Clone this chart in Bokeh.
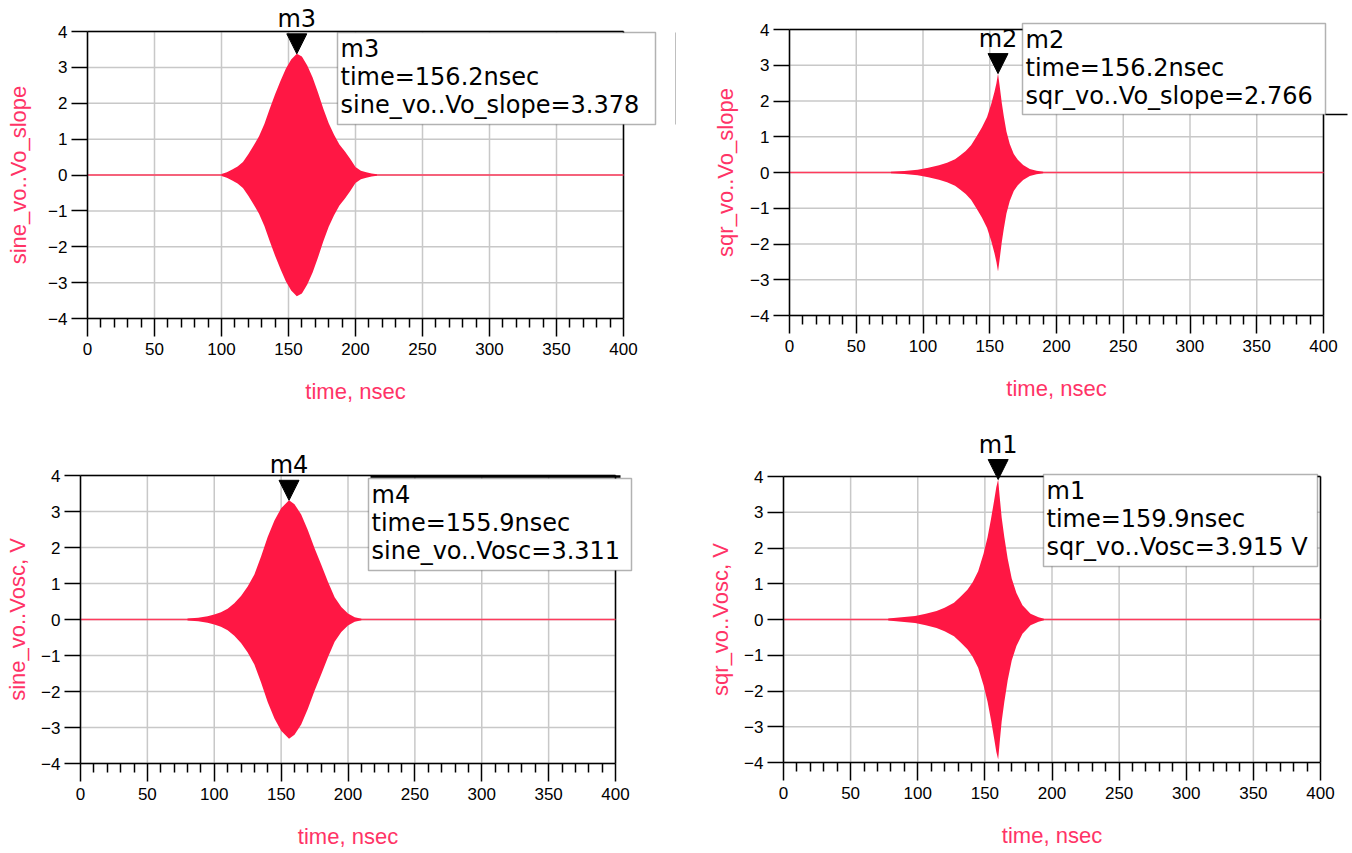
import math
from bokeh.plotting import figure
from bokeh.layouts import column, row
from bokeh.models import (Range1d, FixedTicker, Label, BoxAnnotation, Arrow,
                          NormalHead)
from bokeh.embed import file_html
from bokeh.resources import INLINE

# ---- axis ticks -----------------------------------------------------------
x_ticks = [0, 50, 100, 150, 200, 250, 300, 350, 400]
x_minor = [v for v in range(10, 400, 10) if v % 50]
y_ticks = [-4, -3, -2, -1, 0, 1, 2, 3, 4]
time_span = [0, 400]          # trace sits at zero outside the burst
baseline = [0, 0]

# ---- burst envelopes (time in nsec, peak amplitude) -------------------------
sine_slope_t = [100, 104, 108, 112, 116, 120, 124, 128, 132, 136, 140, 144,
                148, 152, 156.2, 160, 164, 168, 172, 176, 180, 184, 188, 192,
                196, 200, 204, 208, 212, 216]
sine_slope_a = [0.03, 0.08, 0.15, 0.24, 0.36, 0.58, 0.82, 1.08, 1.42, 1.85,
                2.25, 2.62, 2.96, 3.22, 3.378, 3.3, 3.05, 2.72, 2.3, 1.85, 1.44,
                1.12, 0.85, 0.66, 0.45, 0.22, 0.12, 0.08, 0.04, 0.02]

sqr_slope_t = [76, 86, 96, 104, 112, 118, 124, 128, 132, 136, 140, 144, 148,
               151, 153.5, 155, 156.2, 157.5, 159, 160.5, 162.5, 165, 168, 171,
               175, 180, 185, 190]
sqr_slope_a = [0.02, 0.04, 0.08, 0.13, 0.2, 0.27, 0.37, 0.48, 0.6, 0.76, 1.0,
               1.25, 1.55, 1.9, 2.25, 2.5, 2.766, 2.4, 1.95, 1.58, 1.15, 0.8,
               0.52, 0.36, 0.21, 0.1, 0.05, 0.02]

sine_osc_t = [80, 88, 95, 100, 105, 110, 115, 120, 125, 130, 135, 140, 145,
              150, 155.9, 160, 165, 170, 175, 180, 185, 190, 195, 200, 205, 210]
sine_osc_a = [0.03, 0.05, 0.09, 0.14, 0.2, 0.3, 0.45, 0.65, 0.92, 1.25, 1.75,
              2.3, 2.75, 3.09, 3.311, 3.2, 2.92, 2.48, 1.98, 1.52, 1.05, 0.62,
              0.35, 0.17, 0.06, 0.02]

sqr_osc_t = [78, 88, 98, 106, 114, 120, 127, 132, 137, 141, 145, 149, 152,
             154.5, 157, 158.5, 159.9, 161, 162.5, 164.5, 167, 170, 173.5, 178,
             184, 190, 194]
sqr_osc_a = [0.03, 0.06, 0.1, 0.16, 0.24, 0.33, 0.47, 0.64, 0.83, 1.05, 1.35,
             1.84, 2.3, 2.8, 3.35, 3.7, 3.915, 3.45, 2.85, 2.3, 1.7, 1.15, 0.74,
             0.4, 0.16, 0.06, 0.02]

# ---- markers ---------------------------------------------------------------
marker_names = ["m3", "m2", "m4", "m1"]
marker_time = [156.2, 156.2, 155.9, 159.9]
marker_value = [3.378, 2.766, 3.311, 3.915]
marker_expr = ["sine_vo..Vo_slope", "sqr_vo..Vo_slope", "sine_vo..Vosc",
               "sqr_vo..Vosc"]
marker_unit = ["", "", "", " V"]

x_title = "time, nsec"
y_titles = ["sine_vo..Vo_slope", "sqr_vo..Vo_slope", "sine_vo..Vosc, V",
            "sqr_vo..Vosc, V"]

FILL = "#FF1744"
TRACE = "#FF3B5C"
TITLE = "#FF3366"
GRID = "#C8C8C8"
TICK_FONT = "Liberation Sans"
MARK_FONT = "DejaVu Sans"

# canvas geometry of each panel: size, offsets of the data box from the
# canvas edges (l, r, t, b), readout box (pixels from the data box corner),
# y-title distance left of the axis, extra rule segments
layout = [
    dict(w=676, h=426, l=87, r=53, t=31, b=108, ytd=69,
         box=(250, 568, 1, 93), extra=[((589, 1), (589, 93), 1.5)]),
    dict(w=676, h=426, l=113, r=29, t=29, b=111, ytd=64,
         box=(233, 536, -6, 85), extra=[((536, 85), (558, 85), 1.5)]),
    dict(w=676, h=427, l=80, r=61, t=49, b=90, ytd=63,
         box=(288, 551, 3, 95), extra=[((290, 1), (540, 1), 2.5)]),
    dict(w=676, h=427, l=107, r=32, t=50, b=91, ytd=63,
         box=(260, 534, -2, 90), extra=[]),
]
envelopes = [(sine_slope_t, sine_slope_a), (sqr_slope_t, sqr_slope_a),
             (sine_osc_t, sine_osc_a), (sqr_osc_t, sqr_osc_a)]


def make_panel(i):
    g = layout[i]
    fw = g["w"] - g["l"] - g["r"]          # pixel width of 0..400
    fh = g["h"] - g["t"] - g["b"]          # pixel height of -4..4
    x_lo, x_hi = x_ticks[0], x_ticks[-1]
    y_lo, y_hi = y_ticks[0], y_ticks[-1]
    sx = (x_hi - x_lo) / fw
    sy = (y_hi - y_lo) / fh

    def to_data(dx, dy):
        # pixel offset from the data box's top-left corner -> data coords
        return x_lo + dx * sx, y_hi - dy * sy

    # the drawing frame spans the whole canvas; axes are pinned to the
    # data box so readouts and titles are never clipped
    p = figure(width=g["w"], height=g["h"],
               x_range=Range1d(x_lo - g["l"] * sx, x_hi + g["r"] * sx),
               y_range=Range1d(y_lo - g["b"] * sy, y_hi + g["t"] * sy),
               output_backend="svg", toolbar_location=None,
               min_border_left=0, min_border_right=0,
               min_border_top=0, min_border_bottom=0,
               background_fill_color="white", border_fill_color="white",
               outline_line_color=None)

    p.xaxis.ticker = FixedTicker(ticks=x_ticks, minor_ticks=x_minor)
    p.yaxis.ticker = FixedTicker(ticks=y_ticks, minor_ticks=[])
    p.xaxis.bounds = (x_lo, x_hi)
    p.yaxis.bounds = (y_lo, y_hi)
    p.xaxis.fixed_location = y_lo
    p.yaxis.fixed_location = x_lo
    for ax in (p.xaxis[0], p.yaxis[0]):
        ax.axis_line_color = "black"
        ax.axis_line_width = 1.5
        ax.major_tick_line_color = "black"
        ax.major_tick_line_width = 1.5
        ax.minor_tick_line_color = "black"
        ax.minor_tick_line_width = 1.5
        ax.major_tick_in = 0
        ax.minor_tick_in = 0
        ax.major_label_text_font = TICK_FONT
        ax.major_label_text_font_size = "17px"
        ax.major_label_text_color = "black"
    p.xaxis.major_tick_out = 18
    p.xaxis.minor_tick_out = 9
    p.xaxis.major_label_standoff = 6
    p.yaxis.major_tick_out = 16
    p.yaxis.minor_tick_out = 0
    p.yaxis.major_label_standoff = 4

    # grid limited to the data box
    p.xgrid.visible = False
    p.ygrid.visible = False
    p.segment(x0=x_ticks, y0=[y_lo] * len(x_ticks), x1=x_ticks,
              y1=[y_hi] * len(x_ticks), line_color=GRID, line_width=1.5)
    p.segment(x0=[x_lo] * len(y_ticks), y0=y_ticks, x1=[x_hi] * len(y_ticks),
              y1=y_ticks, line_color=GRID, line_width=1.5)
    # top and right edges of the data box
    p.segment(x0=[x_lo, x_hi], y0=[y_hi, y_lo], x1=[x_hi, x_hi],
              y1=[y_hi, y_hi], line_color="black", line_width=1.5)

    # axis titles
    p.add_layout(Label(x=(x_lo + x_hi) / 2, y=y_lo - 73 * sy, text=x_title,
                       text_font=TICK_FONT, text_font_size="22px",
                       text_align="center", text_baseline="middle",
                       text_color=TITLE))
    p.add_layout(Label(x=x_lo - g["ytd"] * sx, y=(y_lo + y_hi) / 2,
                       text=y_titles[i], angle=math.pi / 2,
                       text_font=TICK_FONT, text_font_size="22px",
                       text_align="center", text_baseline="middle",
                       text_color=TITLE))

    # trace: zero level plus the filled oscillation burst
    t, a = envelopes[i]
    p.line(time_span, baseline, line_color=TRACE, line_width=1.5)
    p.varea(x=t, y1=[-v for v in a], y2=a, fill_color=FILL)

    # marker triangle and name
    mt, mv = marker_time[i], marker_value[i]
    p.add_layout(Arrow(x_start=mt, y_start=mv + 1.0, x_end=mt, y_end=mv,
                       line_alpha=0,
                       end=NormalHead(size=20, fill_color="black",
                                      line_color="black")))
    p.add_layout(Label(x=mt, y=mv + 35 * sy, text=marker_names[i],
                       text_font=MARK_FONT, text_font_size="24px",
                       text_align="center", text_baseline="middle",
                       text_color="black"))

    # readout box
    bl, br, bt, bb = g["box"]
    x0, y0 = to_data(bl, bt)
    x1, y1 = to_data(br, bb)
    p.add_layout(BoxAnnotation(left=x0, right=x1, top=y0, bottom=y1,
                               fill_color="white", fill_alpha=1.0,
                               line_color="black", line_width=1.5))
    tx, ty = to_data(bl + 3, bt + 2)
    readout = "%s\ntime=%snsec\n%s=%s%s" % (
        marker_names[i], marker_time[i], marker_expr[i], marker_value[i],
        marker_unit[i])
    p.add_layout(Label(x=tx, y=ty, text=readout, text_font=MARK_FONT,
                       text_font_size="24px", text_align="left",
                       text_baseline="top", text_color="black",
                       text_line_height=1.0))
    for (ax_, ay_), (bx_, by_), lw in g["extra"]:
        xa, ya = to_data(ax_, ay_)
        xb, yb = to_data(bx_, by_)
        p.add_layout(Arrow(x_start=xa, y_start=ya, x_end=xb, y_end=yb,
                           end=None, line_color="black", line_width=lw))
    return p


panels = [make_panel(i) for i in range(4)]
page = column(row(panels[0], panels[1]), row(panels[2], panels[3]))

with open("out.html", "w") as f:
    f.write(file_html(page, INLINE))
